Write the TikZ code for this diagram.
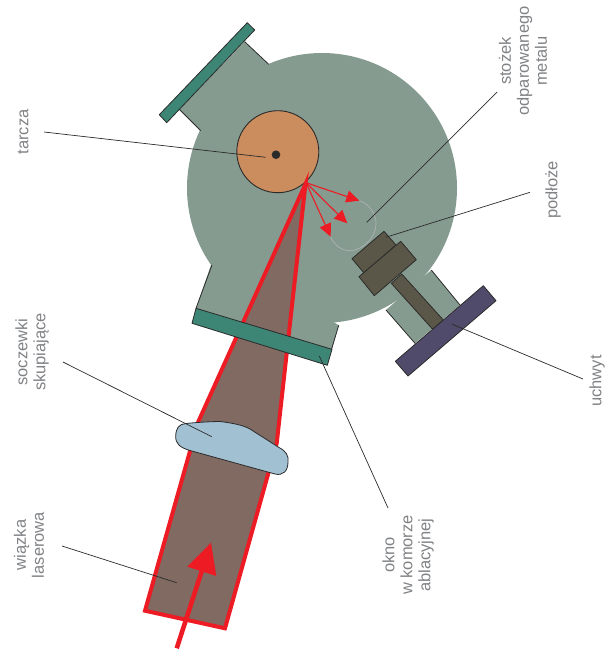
\documentclass[tikz,border=0pt]{standalone}
\usepackage{fontspec}
\setmainfont{Liberation Sans}
\usetikzlibrary{arrows.meta}
\definecolor{chamber}{HTML}{869B8F}
\definecolor{flange}{HTML}{3D8574}
\definecolor{target}{HTML}{CB8C5E}
\definecolor{beamfill}{HTML}{806A62}
\definecolor{laser}{HTML}{ED1C24}
\definecolor{lensc}{HTML}{A1C0D2}
\definecolor{holder}{HTML}{5A5648}
\definecolor{plate}{HTML}{514B6B}
\definecolor{outl}{HTML}{2B2B2B}
\definecolor{labelc}{HTML}{808285}
\definecolor{conec}{HTML}{ACB2B2}
\tikzset{
  label text/.style={rotate=90,align=center,text=labelc,font=\fontsize{16.5}{18}\selectfont,inner sep=0pt},
  leader/.style={draw=outl,line width=0.7pt},
  edge line/.style={draw=outl,line width=0.8pt},
  solid part/.style={draw=outl,line width=0.8pt,line join=round},
  ray/.style={draw=laser,line width=1.1pt,-{Triangle[length=13pt,width=12pt]}},
}
\begin{document}
\begin{tikzpicture}[x=1pt,y=-1pt]
\useasboundingbox (0,0) rectangle (607,650);
% chamber body
\fill[chamber] (322,188) circle (135);
\fill[chamber] (244.7,41.7) -- (268.7,64.3) -- (200.7,130.7) -- (179.3,109.3) -- cycle;
\fill[chamber] (212,262) -- (196,308.3) -- (332,349.3) -- (338.7,325.3) -- (300,300) -- cycle;
\fill[chamber] (431.3,270) -- (460,305) -- (415,343.3) -- (386,310) -- cycle;
\draw[edge line] (244.7,41.7) -- (268.7,64.3);
\draw[edge line] (179.3,109.3) -- (200.7,130.7);
\draw[edge line] (212,265) -- (196,308.3);
\draw[edge line] (338.7,325.3) -- (331.3,350);
\draw[edge line] (431.3,270) -- (460,305);
\draw[edge line] (386,310) -- (415,343.3);
% target
\node[circle,draw=outl,line width=0.9pt,fill=target,minimum size=82pt,inner sep=0pt] (tgt) at (277.8,151.7) {};
\fill[outl] (276,154.7) circle (4.3);
% beam
\coordinate (apex) at (305.5,184);
\fill[beamfill] (apex) -- (198.3,421.7) -- (145,610.7) -- (225,628.3) -- (276.7,443.3) -- cycle;
\draw[laser,line width=4pt,miter limit=10] (276.7,443.3) -- (225,628.3) -- (145,610.7) -- (198.3,421.7) -- (apex) -- cycle;
% window and top flange
\draw[solid part,fill=flange] (196,308.3) -- (332,349.3) -- (327.3,365.3) -- (192,323.3) -- cycle;
\draw[solid part,fill=flange] (247.3,22.7) -- (254.7,30) -- (166.7,122.7) -- (159.3,114.7) -- cycle;
% lens
\draw[solid part,fill=lensc] (186,423.5) .. controls (200,422) and (215,421.5) .. (220,421.5)
  .. controls (232,423) and (243,425) .. (250,429) -- (279,447.5)
  .. controls (286,451) and (289,456) .. (288,462)
  .. controls (288,471) and (283,476) .. (275,474)
  -- (190,450.5) .. controls (180,447.5) and (175.5,444) .. (175.7,436)
  .. controls (176,428) and (179,424) .. (186,423.5) -- cycle;
% holder
\draw[solid part,fill=holder] (401.7,274) -- (443.3,320) -- (432.7,329.3) -- (391.3,283.3) -- cycle;
\draw[solid part,fill=plate] (483.3,285.7) -- (496,300.7) -- (408,376) -- (395.3,361.3) -- cycle;
\draw[solid part,fill=holder] (384,231.3) -- (396,245) -- (364,273) -- (352,258.7) -- cycle;
\draw[solid part,fill=holder] (400.7,241.3) -- (416.3,259.7) -- (374.3,295.7) -- (359,276.7) -- cycle;
% vapour cone
\coordinate (rayo) at (306,182.7);
\coordinate (rayA) at (359.3,200.7);
\coordinate (rayB) at (347.3,223.3);
\coordinate (rayC) at (330.7,236.7);
\draw[draw=conec,line width=0.7pt] (rayA) .. controls (368,203) and (376,213) .. (376,223)
  .. controls (376,240) and (360,250.7) .. (350,250.7)
  .. controls (340,250.7) and (333,243) .. (rayC);
\draw[ray] (rayo) -- (rayA);
\draw[ray] (rayo) -- (rayB);
\draw[ray] (rayo) -- (rayC);
% incoming arrow
\coordinate (arrtail) at (176.7,648.3);
\coordinate (arrbase) at (201.8,571);
\draw[laser,line width=4.6pt] (arrtail) -- (arrbase);
\fill[laser] (211,542.7) -- (187.3,566.7) -- (216.3,576) -- cycle;
% labels
\node[label text] (ltarcza) at (23,132) {tarcza};
\node[label text] (lsocz) at (32,352) {soczewki\\skupiające};
\node[label text] (lwiazka) at (29,545) {wiązka\\laserowa};
\node[label text] (lokno) at (408,555) {okno\\w komorze\\ablacyjnej};
\node[label text] (luchwyt) at (597,381) {uchwyt};
\node[label text] (lpodloze) at (553,190) {podłoże};
\node[label text] (lstozek) at (523,61) {stożek\\odparowanego\\metalu};
% leaders
\coordinate (a1) at (44,132);      \coordinate (b1) at (265.7,157.3);
\coordinate (a2) at (63,362);      \coordinate (b2) at (211.7,436.7);
\coordinate (a3) at (62,546);      \coordinate (b3) at (176.7,582.7);
\coordinate (a4) at (388,508);     \coordinate (b4) at (319.3,356);
\coordinate (a5) at (583,379);     \coordinate (b5) at (451.7,324);
\coordinate (a6) at (530,192.3);   \coordinate (b6) at (385.7,237.3);
\coordinate (a7) at (497,92);      \coordinate (b7) at (366.7,222.3);
\draw[leader] (a1) -- (b1);
\draw[leader] (a2) -- (b2);
\draw[leader] (a3) -- (b3);
\draw[leader] (a4) -- (b4);
\draw[leader] (a5) -- (b5);
\draw[leader] (a6) -- (b6);
\draw[leader] (a7) -- (b7);
\end{tikzpicture}
\end{document}
